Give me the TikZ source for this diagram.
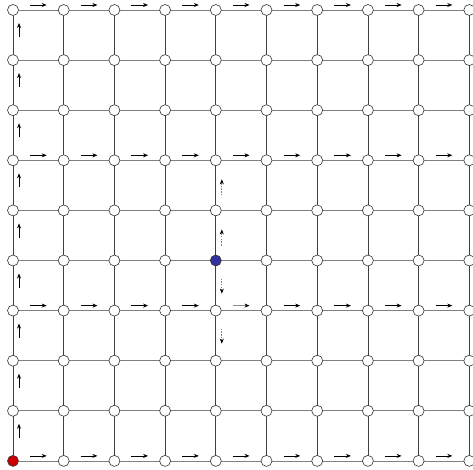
\documentclass[tikz,border=0pt]{standalone}
\usetikzlibrary{arrows.meta,backgrounds,calc}
\definecolor{startred}{RGB}{204,0,0}
\definecolor{curblue}{RGB}{51,51,160}
\begin{document}
\begin{tikzpicture}[
        x=1pt, y=-1pt,
        startn/.style={fill=startred},
        curn/.style={fill=curblue},
        every node/.style={draw=black!80, circle, fill=white, inner sep=0pt, minimum size=11pt, line width=0.6pt},
        hline/.style={draw=black!50, line width=0.8pt},
        vline/.style={draw=black!75, line width=0.8pt},
        flow/.style={-{Stealth[length=5pt,width=4pt,black]}, line width=0.7pt},
        fadeflow/.style={flow, draw=black!45},
        trace/.style={flow, draw=black!50, line width=0.9pt, dash pattern=on 1.5pt off 1.2pt},
    ]
    \useasboundingbox (0,0) rectangle (473,470);
    \foreach \c in {0,...,9}
        \foreach \r in {0,...,9} {
            \ifnum\c\r=9 \def\kind{startn}\else\ifnum\c\r=45 \def\kind{curn}\else\def\kind{}\fi\fi
            \node[\kind] (n-\c-\r) at (13+50.7*\c, 10+50.1*\r) {};
        }
    \begin{scope}[on background layer]
        \foreach \r in {0,...,9} {
            \coordinate (e-\r) at (473, 10+50.1*\r);
            \draw[hline] (n-0-\r) -- (e-\r);
        }
        \foreach \c in {0,...,9}
            \draw[vline] (n-\c-0) -- (n-\c-9);
    \end{scope}
    % moves along the rows
    \foreach \r in {0,3,6,9}
        \foreach \c/\nx in {0/1,1/2,2/3,3/4,4/5,5/6,6/7,7/8,8/9} {
            \ifnum\c\r=46 \def\look{fadeflow}\else\def\look{flow}\fi
            \draw[\look] ($(n-\c-\r)+(17,-5)$) -- ($(n-\nx-\r)+(-17,-5)$);
        }
    % moves up the first column
    \foreach \r/\ny in {0/1,1/2,2/3,3/4,4/5,5/6,6/7,7/8,8/9}
        \draw[flow] ($(n-0-\ny)+(6,-23)$) -- ($(n-0-\r)+(6,13)$);
    % tried moves from the blue node
    \foreach \r/\ny in {3/4,4/5}
        \draw[trace] ($(n-4-\ny)+(6,-15)$) -- ($(n-4-\r)+(6,19)$);
    \foreach \r/\ny in {5/6,6/7}
        \draw[trace] ($(n-4-\r)+(6,18)$) -- ($(n-4-\ny)+(6,-17)$);
\end{tikzpicture}
\end{document}
